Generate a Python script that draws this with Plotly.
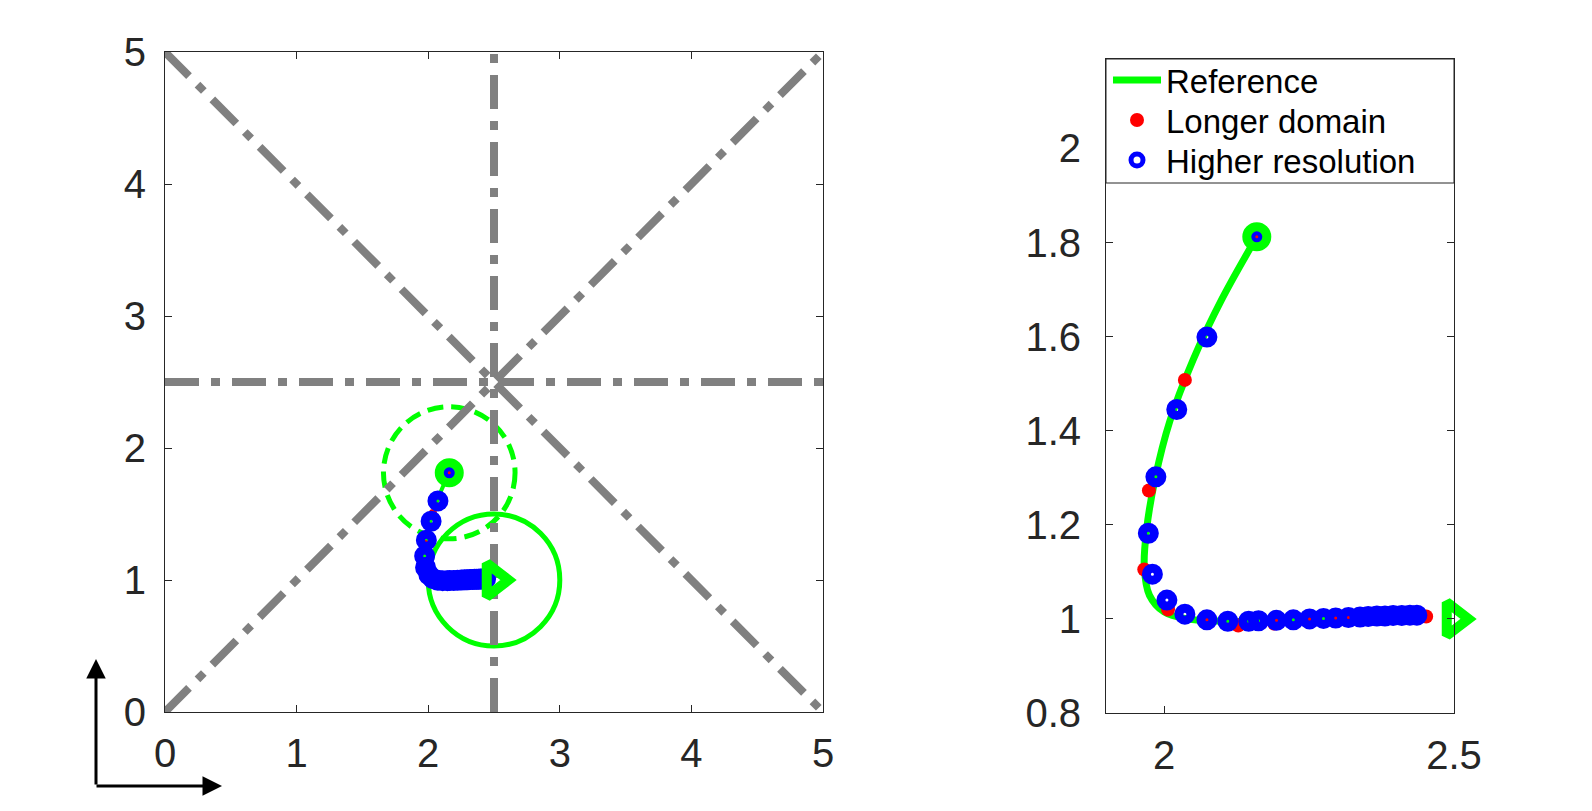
import plotly.graph_objects as go

# ---------------- data ----------------
# Reference trajectory
ref_x = [2.160, 2.100, 2.050, 2.010, 1.985, 1.970, 1.966, 1.975, 2.000, 2.040, 2.100, 2.200, 2.300, 2.400, 2.460]
ref_y = [1.812, 1.680, 1.550, 1.420, 1.300, 1.190, 1.110, 1.050, 1.015, 1.000, 0.995, 0.996, 1.000, 1.004, 1.005]

# Longer domain (red dots)
longer_x = [2.160, 2.036, 1.974, 1.966, 2.007, 2.074, 2.128, 2.190, 2.251, 2.290, 2.325, 2.355, 2.380, 2.402, 2.420, 2.436, 2.452]
longer_y = [1.812, 1.508, 1.273, 1.105, 1.020, 0.998, 0.986, 0.990, 0.999, 1.001, 1.003, 1.004, 1.005, 1.006, 1.006, 1.006, 1.005]

# Higher resolution (blue circles)
hires_x = [2.160, 2.074, 2.022, 1.986, 1.973, 1.980, 2.005, 2.036, 2.074, 2.110, 2.146, 2.163, 2.194,
           2.223, 2.251, 2.275, 2.296, 2.318, 2.338, 2.352, 2.367, 2.381, 2.395, 2.410, 2.424, 2.436]
hires_y = [1.812, 1.599, 1.445, 1.302, 1.182, 1.095, 1.040, 1.010, 0.998, 0.995, 0.995, 0.996, 0.997,
           0.998, 1.000, 1.001, 1.002, 1.003, 1.004, 1.005, 1.006, 1.006, 1.007, 1.007, 1.008, 1.008]

start_x, start_y = [2.16], [1.812]
target_x, target_y = [2.5], [1.0]
radius = 0.5

# gray guide lines (left panel)
guide_lines = {
    "diag_down": ([0, 5], [5, 0]),
    "diag_up": ([0, 5], [0, 5]),
    "vertical": ([2.5, 2.5], [0, 5]),
    "horizontal": ([0, 5], [2.5, 2.5]),
}

left_ticks = [0, 1, 2, 3, 4, 5]
right_xticks = [2, 2.5]
right_xtext = ["2", "2.5"]
right_yticks = [0.8, 1.0, 1.2, 1.4, 1.6, 1.8, 2.0]
right_ytext = ["0.8", "1", "1.2", "1.4", "1.6", "1.8", "2"]

legend_names = ["Reference", "Longer domain", "Higher resolution"]

# ---------------- figure ----------------
W, H = 1592, 811
GREEN, RED, BLUE, GRAY = "#00ff00", "#ff0000", "#0000ff", "#808080"
FONT = "Liberation Sans"

fig = go.Figure()

for name, (gx, gy) in guide_lines.items():
    fig.add_trace(go.Scatter(x=gx, y=gy, mode="lines", showlegend=False, hoverinfo="skip",
                             line=dict(color=GRAY, width=8, dash="34px,12px,9px,12px"),
                             xaxis="x", yaxis="y"))


def add_panel(xa, ya, line_w, red_size, legend):
    fig.add_trace(go.Scatter(x=ref_x, y=ref_y, mode="lines", line=dict(color=GREEN, width=line_w, shape="spline"),
                             name=legend_names[0], showlegend=legend, legend="legend",
                             xaxis=xa, yaxis=ya))
    fig.add_trace(go.Scatter(x=longer_x, y=longer_y, mode="markers",
                             marker=dict(color=RED, size=red_size, line=dict(width=0)),
                             name=legend_names[1], showlegend=legend, legend="legend2",
                             xaxis=xa, yaxis=ya, cliponaxis=False))
    fig.add_trace(go.Scatter(x=hires_x, y=hires_y, mode="markers",
                             marker=dict(symbol="circle-open", color=BLUE, size=12, line=dict(width=9, color=BLUE)),
                             name=legend_names[2], showlegend=legend, legend="legend3",
                             xaxis=xa, yaxis=ya, cliponaxis=False))
    fig.add_trace(go.Scatter(x=start_x, y=start_y, mode="markers", showlegend=False,
                             marker=dict(symbol="circle-open", color=GREEN, size=20, line=dict(width=9, color=GREEN)),
                             xaxis=xa, yaxis=ya, cliponaxis=False))
    fig.add_trace(go.Scatter(x=target_x, y=target_y, mode="markers", showlegend=False,
                             marker=dict(symbol="triangle-right-open", color=GREEN, size=29,
                                         line=dict(width=10, color=GREEN)),
                             xaxis=xa, yaxis=ya, cliponaxis=False))


add_panel("x", "y", 4, 8, False)
add_panel("x2", "y2", 7, 14, True)

# circles in left panel
fig.add_shape(type="circle", xref="x", yref="y",
              x0=start_x[0] - radius, x1=start_x[0] + radius, y0=start_y[0] - radius, y1=start_y[0] + radius,
              line=dict(color=GREEN, width=5, dash="16px,8px"), layer="below")
fig.add_shape(type="circle", xref="x", yref="y",
              x0=target_x[0] - radius, x1=target_x[0] + radius, y0=target_y[0] - radius, y1=target_y[0] + radius,
              line=dict(color=GREEN, width=5), layer="below")

# legend box
fig.add_shape(type="rect", xref="x2 domain", yref="paper", x0=0, x1=1, y0=1 - 183 / H, y1=1 - 59 / H,
              line=dict(color="#262626", width=1), fillcolor="white", layer="above")


def px_x(p):
    return p / W


def px_y(p):
    return 1 - p / H


axis_common = dict(showline=True, linecolor="#262626", linewidth=1, mirror="ticks", ticks="inside",
                   ticklen=7, tickcolor="#262626", showgrid=False, zeroline=False, automargin=False,
                   tickfont=dict(family=FONT, size=40, color="#262626"))

legend_common = dict(x=px_x(1108), xanchor="left", yanchor="top", bgcolor="rgba(0,0,0,0)",
                     borderwidth=0, font=dict(family=FONT, size=33, color="black"), itemwidth=48)

fig.update_layout(
    width=W, height=H, margin=dict(l=0, r=0, t=0, b=0),
    paper_bgcolor="white", plot_bgcolor="white",
    xaxis=dict(domain=[px_x(165), px_x(823)], range=[0, 5], tickvals=left_ticks, anchor="y",
               ticklabelstandoff=6, **axis_common),
    yaxis=dict(domain=[px_y(712), px_y(52)], range=[0, 5], tickvals=left_ticks, anchor="x",
               ticklabelstandoff=10, **axis_common),
    xaxis2=dict(domain=[px_x(1106), px_x(1454)], range=[1.9, 2.5], tickvals=right_xticks, ticktext=right_xtext,
                anchor="y2", ticklabelstandoff=7, **axis_common),
    yaxis2=dict(domain=[px_y(713), px_y(59)], range=[0.8, 2.19], tickvals=right_yticks, ticktext=right_ytext,
                anchor="x2", ticklabelstandoff=16, **axis_common),
    showlegend=True,
    legend=dict(y=px_y(52), **legend_common),
    legend2=dict(y=px_y(92), **legend_common),
    legend3=dict(y=px_y(132), **legend_common),
    annotations=[
        dict(xref="paper", yref="paper", x=px_x(96), y=px_y(659), ax=0, ay=127, text="", showarrow=True,
             arrowhead=2, arrowsize=1.3, arrowwidth=3, arrowcolor="black", standoff=0, startstandoff=0),
        dict(xref="paper", yref="paper", x=px_x(222), y=px_y(786), ax=-127, ay=0, text="", showarrow=True,
             arrowhead=2, arrowsize=1.3, arrowwidth=3, arrowcolor="black", standoff=0, startstandoff=0),
    ],
)

fig.write_html("out.html")
